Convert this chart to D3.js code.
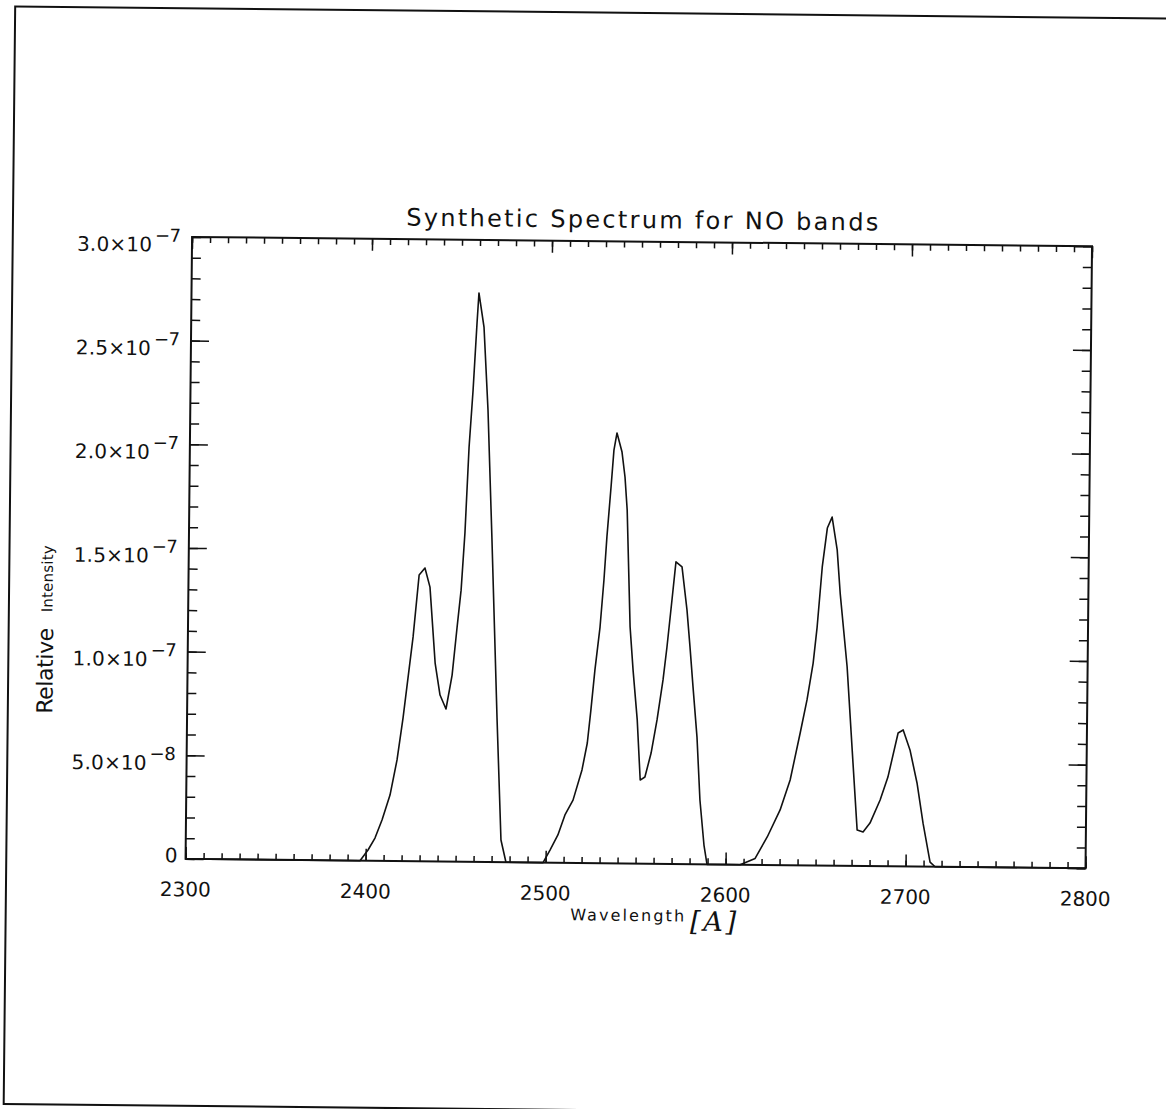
<!DOCTYPE html>
<html>
<head>
<meta charset="utf-8">
<script src="https://cdn.jsdelivr.net/npm/d3@7"></script>
<style>
  html, body { margin: 0; padding: 0; background: #fff; }
  svg { display: block; }
  text { font-family: "DejaVu Sans", "Noto Sans", sans-serif; font-weight: 400; fill: #111; }
</style>
</head>
<body>
<svg id="chart" width="1166" height="1109"></svg>
<script>
// ---- data (wavelength in Å, relative intensity) ----
const wavelength = [
  2300, 2396.9, 2401.3, 2405.1, 2408.9, 2413.2, 2416.9, 2420.0, 2425.1, 2428.1,
  2431.3, 2434.2, 2437.5, 2440.4, 2443.8, 2447.0, 2449.5, 2451.5, 2453.3, 2455.1,
  2457.0, 2458.8, 2459.7, 2462.7, 2465.4, 2468.3, 2472.2, 2475.1, 2478.0,
  2498.6, 2502.4, 2506.7, 2510.5, 2514.9, 2519.7, 2522.5, 2524.3, 2526.3, 2528.9,
  2530.8, 2532.2, 2534.2, 2535.6, 2537.2, 2540.1, 2541.9, 2543.3, 2545.6, 2547.5,
  2550.1, 2552.1, 2554.7, 2558.0, 2561.1, 2564.2, 2566.2, 2568.7, 2570.7, 2574.1,
  2577.1, 2579.0, 2580.9, 2583.4, 2585.4, 2587.9, 2589.7,
  2608.1, 2616.4, 2623.0, 2630.0, 2635.4, 2640.7, 2644.3, 2647.5, 2649.5, 2652.0,
  2654.6, 2657.2, 2660.2, 2662.1, 2666.4, 2669.7, 2672.9, 2676.2, 2680.0, 2685.5,
  2689.7, 2695.1, 2697.9, 2701.8, 2705.9, 2709.5, 2713.6, 2716.4, 2800
];
const intensity = [
  0, 0, 0.052e-7, 0.110e-7, 0.197e-7, 0.318e-7, 0.488e-7, 0.691e-7, 1.082e-7, 1.381e-7,
  1.415e-7, 1.323e-7, 0.957e-7, 0.803e-7, 0.736e-7, 0.900e-7, 1.132e-7, 1.310e-7, 1.586e-7, 2.001e-7,
  2.276e-7, 2.599e-7, 2.744e-7, 2.580e-7, 2.180e-7, 1.567e-7, 0.695e-7, 0.107e-7, 0,
  0, 0.061e-7, 0.134e-7, 0.231e-7, 0.303e-7, 0.449e-7, 0.579e-7, 0.738e-7, 0.931e-7, 1.139e-7,
  1.366e-7, 1.574e-7, 1.815e-7, 1.993e-7, 2.076e-7, 1.984e-7, 1.864e-7, 1.705e-7, 1.141e-7, 0.933e-7,
  0.693e-7, 0.403e-7, 0.418e-7, 0.534e-7, 0.694e-7, 0.887e-7, 1.046e-7, 1.273e-7, 1.457e-7, 1.433e-7,
  1.226e-7, 1.047e-7, 0.855e-7, 0.613e-7, 0.310e-7, 0.093e-7, 0,
  0, 0.031e-7, 0.135e-7, 0.266e-7, 0.411e-7, 0.638e-7, 0.798e-7, 0.976e-7, 1.150e-7, 1.440e-7,
  1.628e-7, 1.681e-7, 1.523e-7, 1.315e-7, 0.959e-7, 0.558e-7, 0.173e-7, 0.164e-7, 0.207e-7, 0.319e-7,
  0.430e-7, 0.643e-7, 0.658e-7, 0.562e-7, 0.403e-7, 0.208e-7, 0.022e-7, 0, 0
];
const xTickValues = [2300, 2400, 2500, 2600, 2700, 2800];
const xTickLabels = ["2300", "2400", "2500", "2600", "2700", "2800"];
const yTickValues = [0, 0.5e-7, 1.0e-7, 1.5e-7, 2.0e-7, 2.5e-7, 3.0e-7];
const yTickMantissa = ["0", "5.0×10", "1.0×10", "1.5×10", "2.0×10", "2.5×10", "3.0×10"];
const yTickExponent = ["", "−8", "−7", "−7", "−7", "−7", "−7"];
const titleText = "Synthetic Spectrum for NO bands";
const xTitleText = "Wavelength";
const xUnitText = "[A]";
const yTitleMain = "Relative";
const yTitleSub = "Intensity";

// ---- layout ----
const L = 188.8, R = 1088.8, T = 241.6, B = 863.6;
const cx = (L + R) / 2, cy = (T + B) / 2;
const svg = d3.select("#chart");
svg.append("rect").attr("width", 1166).attr("height", 1109).attr("fill", "#fff");
const g = svg.append("g").attr("transform", `rotate(0.6, ${cx}, ${cy})`);

// scanned page border
g.append("rect").attr("x", 9.5).attr("y", 13).attr("width", 1220).attr("height", 1097.6)
  .attr("fill", "none").attr("stroke", "#111").attr("stroke-width", 2);

const x = d3.scaleLinear().domain([2300, 2800]).range([L, R]);
const y = d3.scaleLinear().domain([0, 3.0e-7]).range([B, T]);

const xMinor = d3.range(2300, 2801, 10);
const yMinor = d3.range(0, 31).map(i => i * 1e-8);

function tickAxis(axisGen, transform, values, size) {
  const a = g.append("g").attr("transform", transform)
    .call(axisGen.tickValues(values).tickSize(size).tickFormat(""));
  a.select(".domain").remove();
  a.selectAll("line").attr("stroke", "#111").attr("stroke-width", 1.5);
}
// bottom / top (inward ticks)
tickAxis(d3.axisBottom(x), `translate(0,${B})`, xMinor, -6);
tickAxis(d3.axisBottom(x), `translate(0,${B})`, xTickValues, -12);
tickAxis(d3.axisTop(x), `translate(0,${T})`, xMinor, -6);
tickAxis(d3.axisTop(x), `translate(0,${T})`, xTickValues, -12);
// left / right
tickAxis(d3.axisLeft(y), `translate(${L},0)`, yMinor, -9);
tickAxis(d3.axisLeft(y), `translate(${L},0)`, yTickValues, -18);
tickAxis(d3.axisRight(y), `translate(${R},0)`, yMinor, -9);
tickAxis(d3.axisRight(y), `translate(${R},0)`, yTickValues, -18);

// frame
g.append("rect").attr("x", L).attr("y", T).attr("width", R - L).attr("height", B - T)
  .attr("fill", "none").attr("stroke", "#111").attr("stroke-width", 2);

// spectrum
const line = d3.line().x((d, i) => x(wavelength[i])).y((d, i) => y(intensity[i]));
g.append("path").datum(wavelength).attr("d", line)
  .attr("fill", "none").attr("stroke", "#111").attr("stroke-width", 1.6)
  .attr("stroke-linejoin", "round");

// x tick labels
g.selectAll(".xl").data(xTickValues).enter().append("text")
  .attr("x", d => x(d)).attr("y", B + 37.5)
  .attr("text-anchor", "middle").attr("font-size", 20)
  .text((d, i) => xTickLabels[i]);

// y tick labels
yTickValues.forEach((v, i) => {
  const yy = y(v);
  if (yTickExponent[i] === "") {
    g.append("text").attr("x", L - 8).attr("y", yy + 3.5)
      .attr("text-anchor", "end").attr("font-size", 20).text(yTickMantissa[i]);
  } else {
    g.append("text").attr("x", L - 115).attr("y", yy + 15)
      .attr("font-size", 20).attr("textLength", 75).attr("lengthAdjust", "spacing")
      .text(yTickMantissa[i]);
    g.append("text").attr("x", L - 37).attr("y", yy + 5)
      .attr("font-size", 18).attr("textLength", 26).attr("lengthAdjust", "spacing")
      .text(yTickExponent[i]);
  }
});

// title
g.append("text").attr("x", cx).attr("y", 228)
  .attr("text-anchor", "middle").attr("font-size", 24)
  .attr("textLength", 472).attr("lengthAdjust", "spacing").text(titleText);

// x title
g.append("text").attr("x", 574).attr("y", 921).attr("font-size", 16)
  .attr("textLength", 114).attr("lengthAdjust", "spacing").text(xTitleText);
g.append("text").attr("x", 694).attr("y", 930).attr("font-size", 27)
  .style("font-family", "'DejaVu Serif', 'Liberation Serif', serif").style("font-style", "italic")
  .attr("textLength", 46).attr("lengthAdjust", "spacing").text(xUnitText);

// y title
g.append("text").attr("transform", `translate(54,677) rotate(-90)`)
  .attr("text-anchor", "middle").attr("font-size", 22)
  .attr("textLength", 86).attr("lengthAdjust", "spacing").text(yTitleMain);
g.append("text").attr("transform", `translate(53,585) rotate(-90)`)
  .attr("text-anchor", "middle").attr("font-size", 15)
  .attr("textLength", 67).attr("lengthAdjust", "spacing").text(yTitleSub);
</script>
</body>
</html>
